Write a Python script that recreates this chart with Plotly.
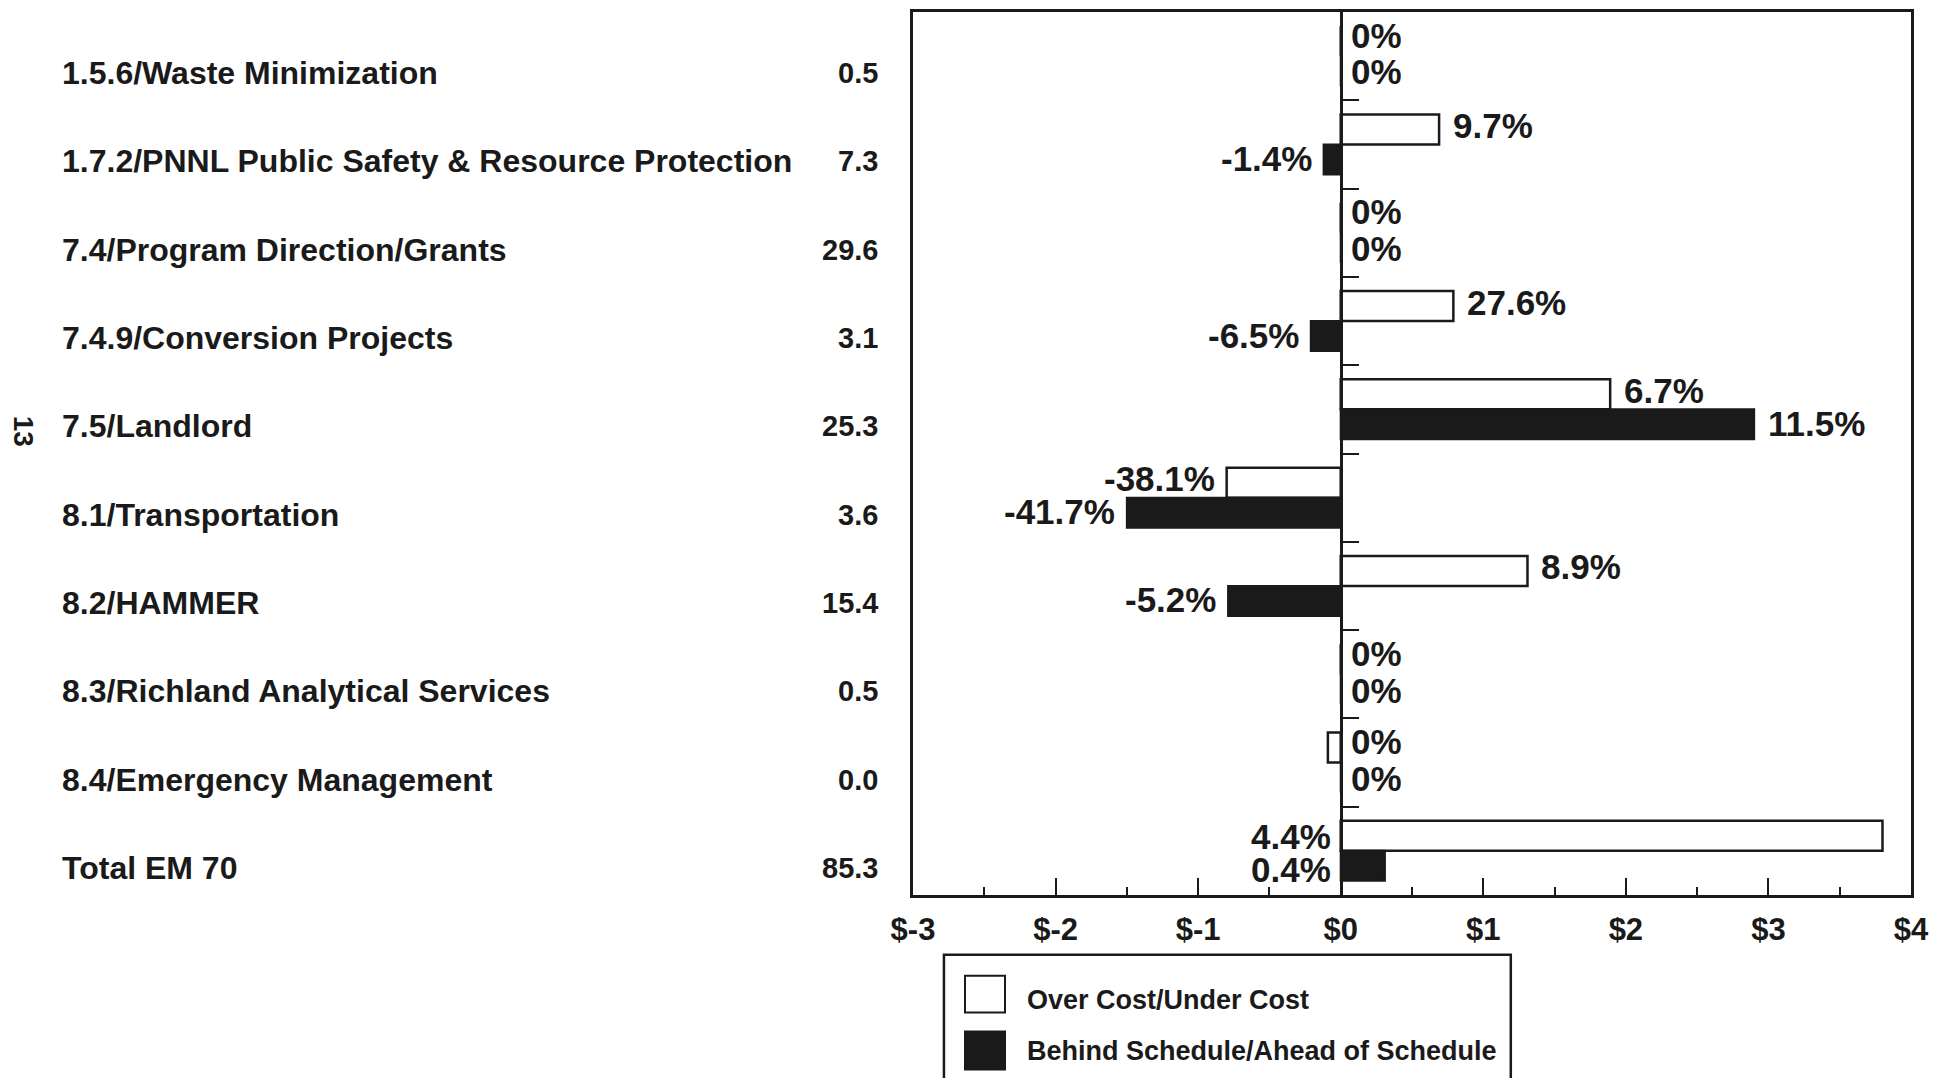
import plotly.graph_objects as go

categories = [
    "1.5.6/Waste Minimization",
    "1.7.2/PNNL Public Safety & Resource Protection",
    "7.4/Program Direction/Grants",
    "7.4.9/Conversion Projects",
    "7.5/Landlord",
    "8.1/Transportation",
    "8.2/HAMMER",
    "8.3/Richland Analytical Services",
    "8.4/Emergency Management",
    "Total EM 70",
]
budget = ["0.5", "7.3", "29.6", "3.1", "25.3", "3.6", "15.4", "0.5", "0.0", "85.3"]
cost_variance = [0.0, 0.69, 0.0, 0.79, 1.89, -0.80, 1.31, 0.0, -0.09, 3.80]
schedule_variance = [0.0, -0.12, 0.0, -0.21, 2.90, -1.50, -0.79, 0.0, 0.0, 0.31]
cost_pct = ["0%", "9.7%", "0%", "27.6%", "6.7%", "-38.1%", "8.9%", "0%", "0%", "4.4%"]
schedule_pct = ["0%", "-1.4%", "0%", "-6.5%", "11.5%", "-41.7%", "-5.2%", "0%", "0%", "0.4%"]
x_ticks = [-3, -2, -1, 0, 1, 2, 3, 4]
x_ticktext = ["$-3", "$-2", "$-1", "$0", "$1", "$2", "$3", "$4"]
legend_names = ["Over Cost/Under Cost", "Behind Schedule/Ahead of Schedule"]

FONT = "Liberation Sans, Arial, Helvetica, sans-serif"
INK = "#1a1a1a"
n = len(categories)
idx = list(range(n))
BW = 0.34

fig = go.Figure()
fig.add_trace(go.Bar(
    y=idx, x=cost_variance, orientation="h", width=BW, offset=-BW,
    marker=dict(color="white", line=dict(color=INK, width=2.5)),
    name=legend_names[0], showlegend=False,
))
fig.add_trace(go.Bar(
    y=idx, x=schedule_variance, orientation="h", width=BW, offset=0,
    marker=dict(color=INK, line=dict(color=INK, width=2)),
    name=legend_names[1], showlegend=False,
))
# invisible trace to carry the zero-line axis with category boundary ticks
fig.add_trace(go.Scatter(x=[0], y=[0], yaxis="y2", mode="markers",
                         marker=dict(opacity=0), showlegend=False, hoverinfo="skip"))

fig.update_layout(
    width=1927, height=1070, autosize=False,
    barmode="overlay",
    paper_bgcolor="white", plot_bgcolor="white",
    margin=dict(l=905, r=24, t=1, b=183),
    font=dict(family=FONT, color=INK),
    xaxis=dict(
        range=[-3, 4], tickvals=x_ticks, ticktext=x_ticktext,
        ticks="inside", ticklen=17, tickwidth=2, tickcolor=INK,
        minor=dict(ticks="inside", ticklen=8, dtick=0.5, tick0=0, tickwidth=2, tickcolor=INK),
        showline=True, mirror=True, linewidth=2.5, linecolor=INK,
        showgrid=False, zeroline=False,
        tickfont=dict(size=31, family=FONT, weight="bold", color=INK),
        ticklabelstandoff=5,
    ),
    yaxis=dict(
        range=[n - 0.5, -0.5], showticklabels=False, ticks="",
        showline=True, mirror=True, linewidth=2.5, linecolor=INK,
        showgrid=False, zeroline=False,
    ),
    yaxis2=dict(
        range=[n - 0.5, -0.5], overlaying="y", anchor="free", position=3 / 7,
        side="left", ticks="inside", ticklen=17, tickwidth=2, tickcolor=INK,
        tickvals=[i + 0.5 for i in idx[:-1]], showticklabels=False,
        showline=True, linewidth=2.5, linecolor=INK, showgrid=False, zeroline=False,
    ),
)

annotations = []
# left-hand category labels and budget column
for i, (cat, b) in enumerate(zip(categories, budget)):
    annotations.append(dict(xref="paper", yref="y", x=-0.8547, y=i, yshift=-17,
                            text=cat, showarrow=False, xanchor="left", yanchor="middle",
                            font=dict(size=32, family=FONT, weight="bold", color=INK)))
    annotations.append(dict(xref="paper", yref="y", x=-0.033, y=i, yshift=-17,
                            text=b, showarrow=False, xanchor="right", yanchor="middle",
                            font=dict(size=29, family=FONT, weight="bold", color=INK)))

# percentage labels
def add_pct(values, labels, sign, yshift):
    for i, (v, t) in enumerate(zip(values, labels)):
        y = i + sign * BW / 2
        ys = yshift
        if i == n - 1:
            xv, anchor, shift = 0, "right", -8
            y = i + sign * 0.19
            ys = -2
        elif t == "0%":
            xv, anchor, shift = 0, "left", 8
            y = i + sign * 0.19
        elif v > 0:
            xv, anchor, shift = v, "left", 12
        else:
            xv, anchor, shift = v, "right", -10
        annotations.append(dict(xref="x", yref="y", x=xv, y=y, yshift=ys, text=t,
                                showarrow=False, xanchor=anchor, xshift=shift, yanchor="middle",
                                font=dict(size=35, family=FONT, weight="bold", color=INK)))

add_pct(cost_variance, cost_pct, -1, 4)
add_pct(schedule_variance, schedule_pct, 1, 1)

# page number
annotations.append(dict(xref="paper", yref="paper", x=-0.891, y=0.525, text="13",
                        textangle=90, showarrow=False, xanchor="center", yanchor="middle",
                        font=dict(size=28, family=FONT, weight="bold", color=INK)))

# manual legend
shapes = [
    dict(type="rect", xref="paper", yref="paper", x0=0.031, x1=0.599, y0=-0.30, y1=-0.0677,
         line=dict(color=INK, width=2.5), fillcolor="rgba(0,0,0,0)"),
    dict(type="rect", xref="paper", yref="paper", x0=0.0521, x1=0.0922, y0=-0.1332, y1=-0.0914,
         line=dict(color=INK, width=2), fillcolor="white"),
    dict(type="rect", xref="paper", yref="paper", x0=0.0521, x1=0.0922, y0=-0.1975, y1=-0.1546,
         line=dict(color=INK, width=2), fillcolor=INK),
]
annotations.append(dict(xref="paper", yref="paper", x=0.1122, y=-0.1185, text=legend_names[0],
                        xanchor="left", yanchor="middle", showarrow=False,
                        font=dict(size=27, family=FONT, weight="bold", color=INK)))
annotations.append(dict(xref="paper", yref="paper", x=0.1122, y=-0.1772, text=legend_names[1],
                        xanchor="left", yanchor="middle", showarrow=False,
                        font=dict(size=27, family=FONT, weight="bold", color=INK)))

fig.update_layout(annotations=annotations, shapes=shapes)
fig.write_html("out.html")
